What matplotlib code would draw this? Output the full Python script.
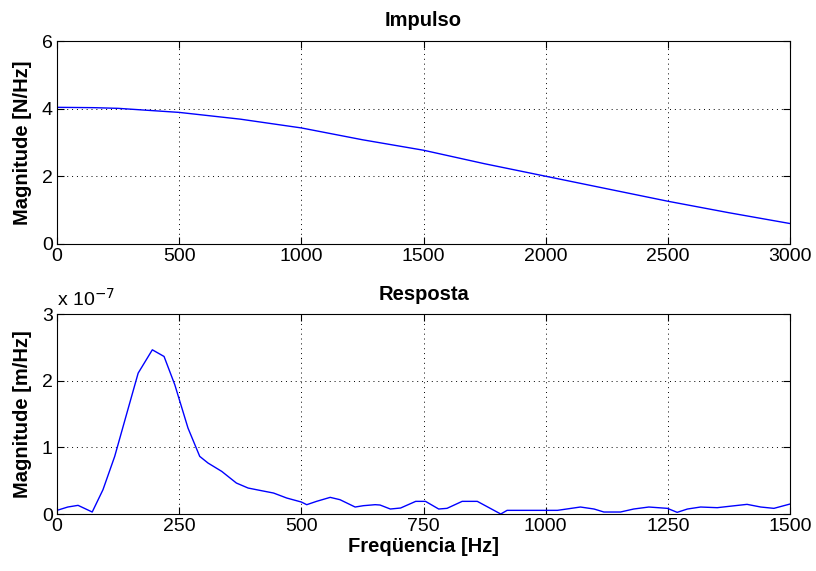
import numpy as np
import matplotlib
matplotlib.use("Agg")
import matplotlib.pyplot as plt

plt.rcParams['font.family'] = ['Liberation Sans', 'DejaVu Sans']

# Impulso: força espectral [N/Hz]
freq_imp = [0, 150, 250, 500, 750, 1000, 1250, 1500, 1750, 2000, 2250, 2500, 2750, 3000]
mag_imp = [4.04, 4.03, 4.01, 3.89, 3.69, 3.43, 3.08, 2.77, 2.37, 2.00, 1.63, 1.26, 0.92, 0.60]

# Resposta: deslocamento espectral [x 1e-7 m/Hz]
freq_resp = [0, 22, 43, 72, 94, 118, 141, 166, 195, 219, 241, 268, 292, 309, 337,
             367, 391, 415, 443, 470, 500, 511, 531, 559, 579, 610, 627, 651, 661,
             682, 703, 734, 754, 781, 798, 829, 860, 908, 921, 1000, 1024, 1071,
             1099, 1119, 1153, 1180, 1211, 1249, 1269, 1290, 1317, 1351, 1375,
             1412, 1440, 1467, 1500]
mag_resp = [0.055, 0.105, 0.13, 0.03, 0.365, 0.865, 1.465, 2.115, 2.465, 2.365, 1.94,
            1.29, 0.865, 0.765, 0.64, 0.465, 0.39, 0.355, 0.315, 0.24, 0.18, 0.14,
            0.19, 0.25, 0.215, 0.105, 0.125, 0.14, 0.135, 0.075, 0.09, 0.19, 0.19,
            0.075, 0.085, 0.19, 0.19, 0.0, 0.055, 0.055, 0.055, 0.105, 0.075, 0.03,
            0.03, 0.075, 0.105, 0.085, 0.025, 0.075, 0.105, 0.095, 0.115, 0.145,
            0.105, 0.085, 0.15]

fig = plt.figure(figsize=(8.16, 5.71), dpi=100)
ax1 = fig.add_axes([0.0699, 0.573, 0.8983, 0.355])
ax2 = fig.add_axes([0.0699, 0.0998, 0.8983, 0.350])

def style(ax):
    ax.grid(True, color='k', linestyle=(0, (1, 4)), linewidth=0.7)
    ax.tick_params(direction='in', top=True, right=True, length=5,
                   labelsize=14, pad=3)
    for s in ax.spines.values():
        s.set_linewidth(0.8)

ax1.plot(freq_imp, mag_imp, color='#0000ff', linewidth=1)
ax1.set_xlim(0, 3000)
ax1.set_ylim(0, 6)
ax1.set_xticks(np.arange(0, 3001, 500))
ax1.set_yticks([0, 2, 4, 6])
ax1.set_title('Impulso', fontsize=14.5, fontweight='bold', pad=11)
ax1.set_ylabel('Magnitude [N/Hz]', fontsize=14.5, fontweight='bold', labelpad=7)
style(ax1)

ax2.plot(freq_resp, mag_resp, color='#0000ff', linewidth=1)
ax2.set_xlim(0, 1500)
ax2.set_ylim(0, 3)
ax2.set_xticks(np.arange(0, 1501, 250))
ax2.set_yticks([0, 1, 2, 3])
ax2.set_title('Resposta', fontsize=14.5, fontweight='bold', pad=10)
ax2.set_ylabel('Magnitude [m/Hz]', fontsize=14.5, fontweight='bold', labelpad=7)
ax2.set_xlabel('Freqüencia [Hz]', fontsize=14.5, fontweight='bold', labelpad=1)
style(ax2)
ax2.text(0.0, 1.02, r'x 10$^{-7}$', transform=ax2.transAxes, fontsize=14,
         ha='left', va='bottom')

fig.savefig('out.png', dpi=100)
